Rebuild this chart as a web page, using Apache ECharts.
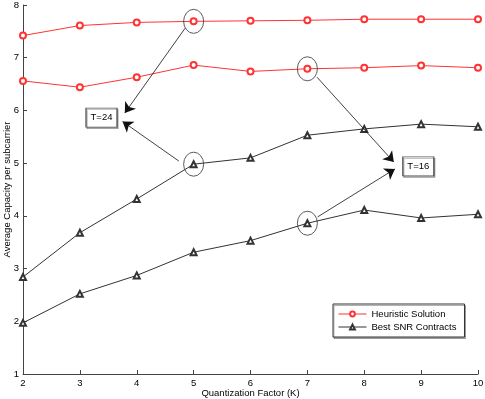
<!DOCTYPE html>
<html>
<head>
<meta charset="utf-8">
<script src="https://cdn.jsdelivr.net/npm/echarts@6/dist/echarts.min.js"></script>
<style>
  html, body { margin: 0; padding: 0; background: #fff; }
  #chart { width: 485px; height: 399px; }
</style>
</head>
<body>
<div id="chart"></div>
<script>
// quantization factor K
const kValues = [2, 3, 4, 5, 6, 7, 8, 9, 10];
// average capacity per subcarrier
const heuristicT24 = [7.42, 7.61, 7.67, 7.69, 7.70, 7.71, 7.73, 7.73, 7.73];
const heuristicT16 = [6.56, 6.44, 6.63, 6.86, 6.74, 6.79, 6.81, 6.85, 6.81];
const snrT24 = [2.84, 3.68, 4.32, 4.98, 5.10, 5.53, 5.65, 5.74, 5.69];
const snrT16 = [1.97, 2.52, 2.87, 3.31, 3.53, 3.86, 4.11, 3.96, 4.03];
const seriesNames = ['Heuristic Solution', 'Best SNR Contracts'];

// annotations (data coordinates)
const boxT24 = [3.38, 5.865];
const boxT16 = [8.95, 4.94];
const arrows = [
    [[4.85, 7.56], [3.79, 5.95]],
    [[4.74, 5.04], [3.75, 5.79]],
    [[7.17, 6.63], [8.52, 5.02]],
    [[7.18, 3.98], [8.54, 4.89]]
];

const font = 'Liberation Sans, Arial, Helvetica, sans-serif';
const red = '#ff3333';
const dark = '#333';

function pairs(ys) {
    return kValues.map(function (k, i) { return [k, ys[i]]; });
}

function lineSeries(name, ys, color, symbol) {
    return {
        name: name,
        type: 'line',
        data: pairs(ys),
        symbol: symbol,
        symbolSize: 6,
        showAllSymbol: true,
        lineStyle: { color: color, width: 1 },
        itemStyle: { color: color, borderWidth: 0.7 },
        emphasis: { disabled: true }
    };
}

const chart = echarts.init(document.getElementById('chart'));

const ellipse = function (x, y) {
    return {
        coord: [x, y],
        symbol: 'circle',
        symbolSize: [20, 24],
        itemStyle: { color: 'rgba(0,0,0,0)', borderColor: '#333', borderWidth: 0.8 },
        label: { show: false }
    };
};
const textBox = function (pos, text) {
    return {
        coord: pos,
        symbol: 'rect',
        symbolSize: [31, 19],
        itemStyle: {
            color: '#fff', borderColor: '#555', borderWidth: 1,
            shadowColor: 'rgba(0,0,0,0.3)', shadowOffsetX: 1, shadowOffsetY: 1.5
        },
        label: { show: true, position: 'inside', formatter: text, color: '#000', fontSize: 9.5, fontFamily: font }
    };
};

const option = {
    animation: false,
    backgroundColor: '#fff',
    grid: { left: 23, right: 7, top: 5, bottom: 25, containLabel: false, outerBoundsMode: 'none' },
    legend: {
        data: seriesNames,
        orient: 'vertical',
        left: 333,
        top: 304,
        itemWidth: 28,
        itemHeight: 6,
        itemGap: 3,
        padding: [5, 8, 5, 5],
        backgroundColor: '#fff',
        borderColor: '#333',
        borderWidth: 1,
        shadowColor: 'rgba(0,0,0,0.3)',
        shadowOffsetX: 1,
        shadowOffsetY: 1.5,
        itemStyle: { borderWidth: 0.7 },
        lineStyle: { width: 1 },
        textStyle: { fontSize: 9.5, fontFamily: font, color: '#000' },
        selectedMode: false
    },
    xAxis: {
        type: 'value',
        min: 2,
        max: 10,
        interval: 1,
        name: 'Quantization Factor (K)',
        nameLocation: 'middle',
        nameGap: 14,
        nameMoveOverlap: false,
        nameTextStyle: { fontSize: 9.5, fontFamily: font, color: '#000' },
        axisLine: { lineStyle: { color: '#444', width: 1 } },
        axisTick: { inside: true, length: 4, lineStyle: { color: '#444' } },
        axisLabel: { fontSize: 9.5, fontFamily: font, color: '#000', margin: 4 },
        splitLine: { show: false }
    },
    yAxis: {
        type: 'value',
        min: 1,
        max: 8,
        interval: 1,
        name: 'Average Capacity per subcarrier',
        nameLocation: 'middle',
        nameGap: 11,
        nameMoveOverlap: false,
        nameTextStyle: { fontSize: 9.5, fontFamily: font, color: '#000' },
        axisLine: { show: true, lineStyle: { color: '#444', width: 1 } },
        axisTick: { show: true, inside: true, length: 4, lineStyle: { color: '#444' } },
        axisLabel: { fontSize: 9.5, fontFamily: font, color: '#000', margin: 4 },
        splitLine: { show: false }
    },
    series: [
        lineSeries(seriesNames[0], heuristicT24, red, 'emptyCircle'),
        lineSeries(seriesNames[0], heuristicT16, red, 'emptyCircle'),
        lineSeries(seriesNames[1], snrT24, dark, 'emptyTriangle'),
        lineSeries(seriesNames[1], snrT16, dark, 'emptyTriangle'),
        {
            name: 'annotations',
            type: 'line',
            data: [],
            silent: true,
            markLine: {
                silent: true,
                symbol: ['none', 'arrow'],
                symbolSize: 10,
                label: { show: false },
                lineStyle: { color: '#111', width: 0.8, type: 'solid' },
                emphasis: { disabled: true },
                data: arrows.map(function (a) {
                    return [{ coord: a[0] }, { coord: a[1] }];
                })
            },
            markPoint: {
                silent: true,
                data: [
                    ellipse(kValues[3], heuristicT24[3]),
                    ellipse(kValues[3], snrT24[3]),
                    ellipse(kValues[5], heuristicT16[5]),
                    ellipse(kValues[5], snrT16[5]),
                    textBox(boxT24, 'T=24'),
                    textBox(boxT16, 'T=16')
                ]
            }
        }
    ]
};

chart.setOption(option);
window.addEventListener('resize', function () {
    chart.resize();
});
</script>
</body>
</html>
